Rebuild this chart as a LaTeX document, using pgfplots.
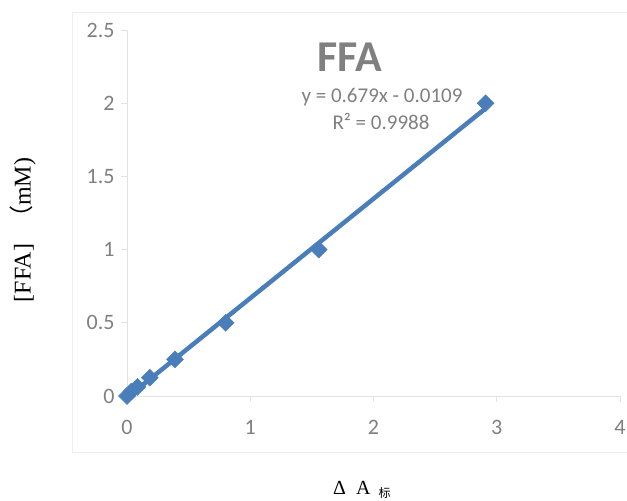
\documentclass[border=0pt]{standalone}
\usepackage{pgfplots}
\pgfplotsset{compat=1.18}
\usepackage{fontspec}
\setmainfont{Carlito}
\newfontfamily\seriffont{Liberation Serif}
\newfontfamily\cjk{Noto Sans CJK SC}
\definecolor{xlblue}{HTML}{4A7EBB}
\definecolor{tgray}{HTML}{808080}
\definecolor{agray}{HTML}{E2E2E2}
\definecolor{bgray}{HTML}{EEEEEE}
\begin{document}
\begin{tikzpicture}[x=1pt,y=1pt]
\path[use as bounding box] (0,0) rectangle (627,501);
\draw[color=bgray, line width=0.8pt] (72,49) rectangle (640,489);
\begin{axis}[
  at={(127pt,105pt)}, anchor=south west,
  scale only axis, width=493pt, height=366pt,
  xmin=0, xmax=4, ymin=0, ymax=2.5,
  xtick={0,1,2,3,4}, ytick={0,0.5,1,1.5,2,2.5},
  axis x line*=bottom, axis y line*=left,
  axis line style={-, draw=agray, line width=0.8pt},
  tick style={draw=agray, line width=0.8pt},
  tick align=outside, major tick length=6pt,
  tick label style={font=\fontsize{22}{26}\selectfont, text=tgray},
  /pgf/number format/assume math mode=true,
  xticklabel style={yshift=-15pt},
  yticklabel style={xshift=-3pt},
  clip=false,
]
\addplot[only marks, mark=square*, mark size=6pt, mark options={rotate=45, fill=xlblue, draw=xlblue}]
  coordinates {(0,0) (0.035,0.031) (0.085,0.0625) (0.185,0.125) (0.39,0.25) (0.80,0.5) (1.556,1) (2.91,2)};
\addplot[xlblue, line width=4.5pt, no marks] coordinates {(0,-0.0109) (2.91,1.965)};
\end{axis}
\node[text=tgray, font=\fontsize{44}{50}\selectfont\bfseries] at (350,444) {FFA};
\node[text=tgray, font=\fontsize{21}{25}\selectfont] at (382,404) {y = 0.679x - 0.0109};
\node[text=tgray, font=\fontsize{21}{25}\selectfont] at (381,380) {R² = 0.9988};
\node[rotate=90, font=\fontsize{24}{28}\seriffont] at (23,271) {[FFA]\hspace{14pt}{\cjk （}mM)};
\node[anchor=base west, inner sep=0pt, font=\fontsize{20}{24}\seriffont] at (333,6) {Δ\hspace{10pt}A\hspace{8pt}\raisebox{-3pt}{\cjk\fontsize{12}{14}\selectfont 标}};
\end{tikzpicture}
\end{document}
